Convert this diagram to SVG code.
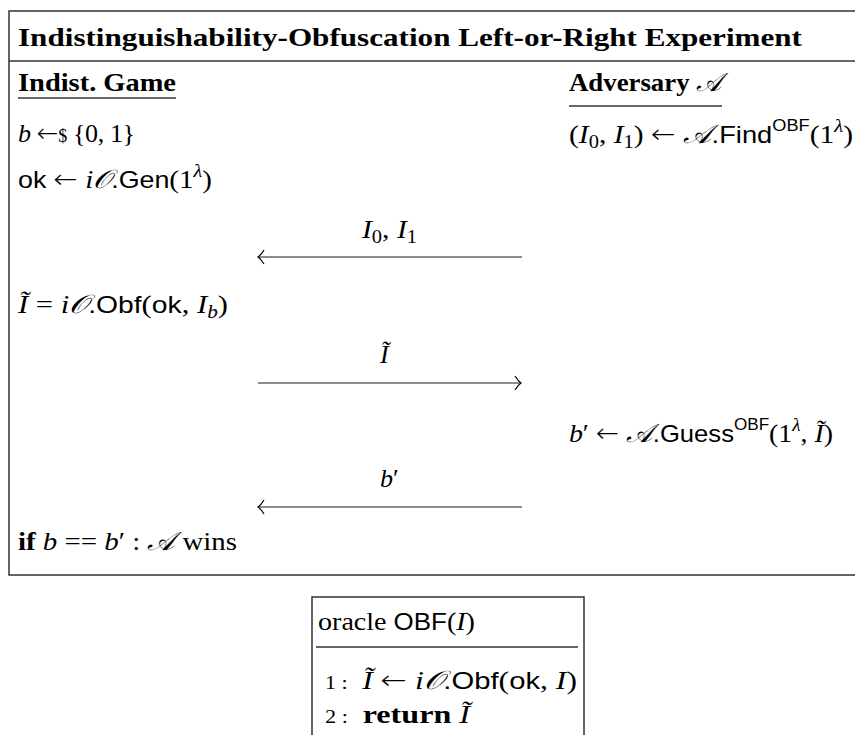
<svg xmlns="http://www.w3.org/2000/svg" width="855" height="735" viewBox="0 0 855 735">
<style>
text{font-family:"Liberation Serif",serif;font-size:26px;fill:#000}
.i{font-style:italic}
.s{font-family:"Liberation Sans","DejaVu Sans",sans-serif;font-size:24px}
.c{font-family:"DejaVu Serif","Noto Sans","DejaVu Sans",serif;font-style:italic}
.ar{font-family:"DejaVu Sans",sans-serif;font-size:26px;font-weight:200}
.b{font-weight:bold}
.sm{font-size:18px}
.ssm{font-family:"Liberation Sans",sans-serif;font-size:16px}
.frame{fill:none;stroke:#333;stroke-width:1.5}
.rule{stroke:#333;stroke-width:1.3}
.conn{stroke:#666;stroke-width:1.6;fill:none}
.head{stroke:#000;stroke-width:1.2;fill:none}
</style>
<rect width="855" height="735" fill="#fff"/>

<g id="experiment">
  <path class="frame" d="M870,11 H9 V575 H870"/>
  <line class="rule" x1="9" y1="61" x2="855" y2="61"/>
  <text x="18" y="46" class="b" font-size="28" textLength="784" lengthAdjust="spacingAndGlyphs">Indistinguishability-Obfuscation Left-or-Right Experiment</text>
</g>

<g id="game">
  <text x="18" y="91" class="b" font-size="27" textLength="158" lengthAdjust="spacingAndGlyphs">Indist. Game</text>
  <line class="rule" x1="18" y1="98" x2="176" y2="98"/>
  <text x="18" y="142" textLength="117" lengthAdjust="spacing"><tspan class="i">b</tspan> <tspan class="ar">←</tspan><tspan class="sm">$</tspan> {0, 1}</text>
  <text x="18" y="188" textLength="194" lengthAdjust="spacingAndGlyphs"><tspan class="s">ok</tspan> <tspan class="ar">←</tspan> <tspan class="i">i</tspan><tspan class="c">𝒪</tspan><tspan class="s">.Gen</tspan>(1<tspan class="i sm" dy="-11">λ</tspan><tspan dy="11">)</tspan></text>
  <text x="18" y="313" textLength="210" lengthAdjust="spacingAndGlyphs"><tspan class="i">Ĩ</tspan> = <tspan class="i">i</tspan><tspan class="c">𝒪</tspan><tspan class="s">.Obf</tspan>(<tspan class="s">ok</tspan>, <tspan class="i">I</tspan><tspan class="i sm" dy="5">b</tspan><tspan dy="-5">)</tspan></text>
  <text x="18" y="550" textLength="219" lengthAdjust="spacingAndGlyphs"><tspan class="b">if</tspan> <tspan class="i">b</tspan> == <tspan class="i">b</tspan>′ : <tspan class="c">𝒜</tspan> wins</text>
</g>

<g id="adversary">
  <text x="569" y="91" class="b" font-size="26" textLength="153" lengthAdjust="spacingAndGlyphs">Adversary <tspan class="c" font-weight="normal">𝒜</tspan></text>
  <line class="rule" x1="569" y1="106" x2="722" y2="106"/>
  <text x="569" y="143" textLength="284" lengthAdjust="spacingAndGlyphs">(<tspan class="i">I</tspan><tspan class="sm" dy="5">0</tspan><tspan dy="-5">, </tspan><tspan class="i">I</tspan><tspan class="sm" dy="5">1</tspan><tspan dy="-5">) </tspan><tspan class="ar">←</tspan> <tspan class="c">𝒜</tspan><tspan class="s">.Find</tspan><tspan class="ssm" dy="-12">OBF</tspan><tspan dy="12">(1</tspan><tspan class="i sm" dy="-11">λ</tspan><tspan dy="11">)</tspan></text>
  <text x="569" y="442" textLength="264" lengthAdjust="spacingAndGlyphs"><tspan class="i">b</tspan>′ <tspan class="ar">←</tspan> <tspan class="c">𝒜</tspan><tspan class="s">.Guess</tspan><tspan class="ssm" dy="-12">OBF</tspan><tspan dy="12">(1</tspan><tspan class="i sm" dy="-11">λ</tspan><tspan dy="11">, </tspan><tspan class="i">Ĩ</tspan>)</text>
</g>

<g id="connectors">
  <line class="conn" x1="259" y1="257" x2="522" y2="257"/>
  <path class="head" d="M264,250 Q261,255 258,257 Q261,259 264,264"/>
  <text x="362" y="238" textLength="55" lengthAdjust="spacingAndGlyphs"><tspan class="i">I</tspan><tspan class="sm" dy="5">0</tspan><tspan dy="-5">, </tspan><tspan class="i">I</tspan><tspan class="sm" dy="5">1</tspan></text>

  <line class="conn" x1="258" y1="383" x2="520" y2="383"/>
  <path class="head" d="M515,376 Q518,381 521,383 Q518,385 515,390"/>
  <text x="380" y="363" class="i">Ĩ</text>

  <line class="conn" x1="259" y1="507" x2="522" y2="507"/>
  <path class="head" d="M264,500 Q261,505 258,507 Q261,509 264,514"/>
  <text x="380" y="487"><tspan class="i">b</tspan>′</text>
</g>

<g id="oracle">
  <rect class="frame" x="312" y="597" width="272" height="160"/>
  <text x="318" y="630" textLength="157" lengthAdjust="spacingAndGlyphs">oracle <tspan class="s">OBF</tspan>(<tspan class="i">I</tspan>)</text>
  <line class="rule" x1="316" y1="647" x2="578" y2="647"/>
  <text x="325" y="689" textLength="252" lengthAdjust="spacingAndGlyphs"><tspan font-size="18">1 :</tspan><tspan dx="12" class="i">Ĩ</tspan> <tspan class="ar">←</tspan> <tspan class="i">i</tspan><tspan class="c">𝒪</tspan><tspan class="s">.Obf</tspan>(<tspan class="s">ok</tspan>, <tspan class="i">I</tspan>)</text>
  <text x="325" y="723" textLength="145" lengthAdjust="spacingAndGlyphs"><tspan font-size="18">2 :</tspan><tspan dx="12" class="b">return</tspan> <tspan class="i">Ĩ</tspan></text>
</g>
</svg>
